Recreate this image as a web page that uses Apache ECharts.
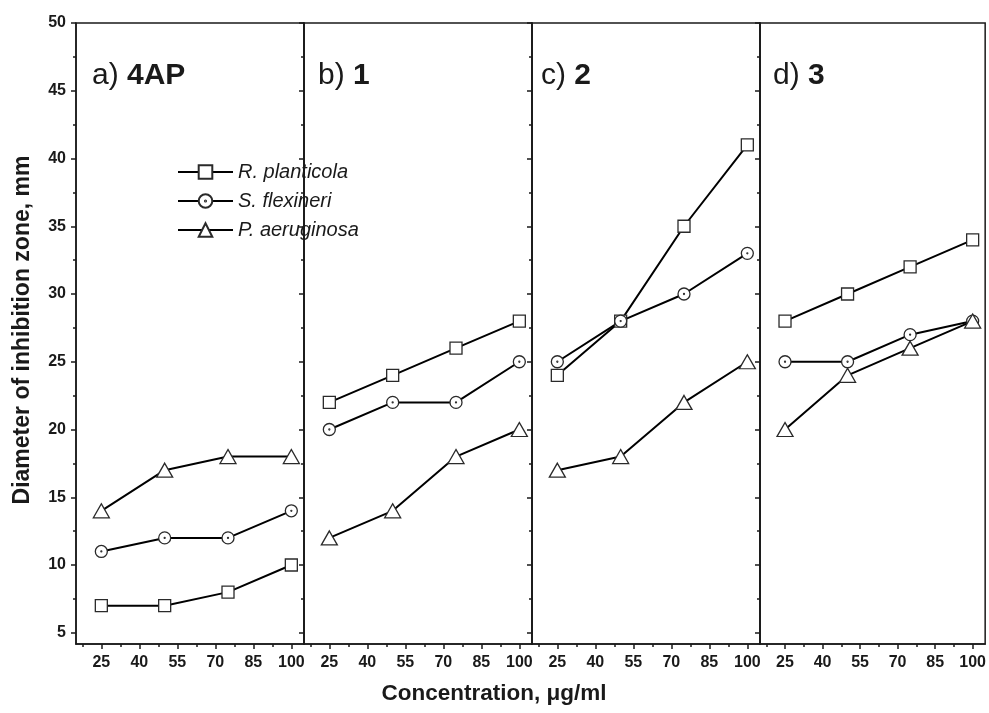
<!DOCTYPE html>
<html>
<head>
<meta charset="utf-8">
<script src="https://cdn.jsdelivr.net/npm/echarts@6/dist/echarts.min.js"></script>
<style>
  html, body { margin: 0; padding: 0; background: #fff; }
  #main { width: 989px; height: 713px; }
</style>
</head>
<body>
<div id="main"></div>
<script>
// x positions of measurements and tick marks
var concentrations = [25, 50, 75, 100];
var xTicks = [25, 40, 55, 70, 85, 100];
var xMinorTicks = [17.5, 32.5, 47.5, 62.5, 77.5, 92.5];
var yTicks = [5, 10, 15, 20, 25, 30, 35, 40, 45, 50];
var yMinorTicks = [7.5, 12.5, 17.5, 22.5, 27.5, 32.5, 37.5, 42.5, 47.5];

var species = ['R. planticola', 'S. flexineri', 'P. aeruginosa'];
var panelLetters = ['a)', 'b)', 'c)', 'd)'];
var panelNames = ['4AP', '1', '2', '3'];

// one row per panel (a, b, c, d)
var rPlanticola = [[7, 7, 8, 10], [22, 24, 26, 28], [24, 28, 35, 41], [28, 30, 32, 34]];
var sFlexineri  = [[11, 12, 12, 14], [20, 22, 22, 25], [25, 28, 30, 33], [25, 25, 27, 28]];
var pAeruginosa = [[14, 17, 18, 18], [12, 14, 18, 20], [17, 18, 22, 25], [20, 24, 26, 28]];

var font = '"Liberation Sans", Arial, sans-serif';
var ink = '#1a1a1a';
var gridLeft = [76, 304, 532, 760];
var gridWidth = 228;
var yMin = 4.17;

// circle with a small dot in the middle
var dotCircle = 'path://M50,0 A50,50 0 1,1 50,100 A50,50 0 1,1 50,0 Z M50,46 A4,4 0 1,1 50,54 A4,4 0 1,1 50,46 Z';
var symbols = ['rect', dotCircle, 'triangle'];
var symbolSizes = [12, 12, [16, 14]];
var values = [rPlanticola, sFlexineri, pAeruginosa];

var chart = echarts.init(document.getElementById('main'));

var grids = [], xAxes = [], yAxes = [], series = [], titles = [];
var tickLabel = { fontSize: 16, fontWeight: 'bold', color: ink, fontFamily: font };

for (var i = 0; i < 4; i++) {
  grids.push({
    left: gridLeft[i], top: 23, width: gridWidth, height: 621,
    show: true, borderColor: ink, borderWidth: 1.5, containLabel: false
  });
  // major x axis
  xAxes.push({
    gridIndex: i, type: 'value', min: 15, max: 105, position: 'bottom',
    axisLine: { show: true, onZero: false, lineStyle: { color: ink, width: 1.5 } },
    axisTick: { show: true, customValues: xTicks, length: 5, lineStyle: { color: ink, width: 1.5 } },
    axisLabel: Object.assign({ customValues: xTicks, margin: 11 }, tickLabel),
    splitLine: { show: false }
  });
  // minor x ticks
  xAxes.push({
    gridIndex: i, type: 'value', min: 15, max: 105, position: 'bottom',
    axisLine: { show: false, onZero: false },
    axisTick: { show: true, customValues: xMinorTicks, length: 3, lineStyle: { color: ink, width: 1.5 } },
    axisLabel: { show: false },
    splitLine: { show: false }
  });
  yAxes.push({
    gridIndex: i, type: 'value', min: yMin, max: 50, position: 'left',
    axisLine: { show: true, onZero: false, lineStyle: { color: ink, width: 1.5 } },
    axisTick: { show: true, customValues: yTicks, length: 5, lineStyle: { color: ink, width: 1.5 } },
    axisLabel: Object.assign({ show: i == 0, customValues: yTicks, margin: 10 }, tickLabel),
    splitLine: { show: false }
  });
  yAxes.push({
    gridIndex: i, type: 'value', min: yMin, max: 50, position: 'left',
    axisLine: { show: false, onZero: false },
    axisTick: { show: true, customValues: yMinorTicks, length: 3, lineStyle: { color: ink, width: 1.5 } },
    axisLabel: { show: false },
    splitLine: { show: false }
  });

  for (var s = 0; s < species.length; s++) {
    series.push({
      name: species[s], type: 'line',
      xAxisIndex: 2 * i, yAxisIndex: 2 * i,
      data: concentrations.map(function (c, k) { return [c, values[s][i][k]]; }),
      symbol: symbols[s], symbolSize: symbolSizes[s], symbolKeepAspect: true,
      showAllSymbol: true,
      lineStyle: { color: '#000', width: 2 },
      itemStyle: { color: '#fff', borderColor: '#2a2a2a', borderWidth: 1.3 },
      emphasis: { disabled: true },
      animation: false
    });
  }

  titles.push({
    text: '{n|' + panelLetters[i] + ' }{b|' + panelNames[i] + '}',
    left: [92, 318, 541, 773][i], top: 61, padding: 0,
    textStyle: {
      rich: {
        n: { fontSize: 30, fontWeight: 'normal', color: ink, fontFamily: font },
        b: { fontSize: 30, fontWeight: 'bold', color: ink, fontFamily: font }
      }
    }
  });
}

var option = {
  backgroundColor: '#fff',
  animation: false,
  title: titles,
  grid: grids,
  xAxis: xAxes,
  yAxis: yAxes,
  legend: {
    data: species, orient: 'vertical', left: 177, top: 162, padding: 0,
    itemWidth: 55, itemHeight: 17, itemGap: 9,
    selectedMode: false,
    textStyle: { fontSize: 20, fontStyle: 'italic', color: ink, fontFamily: font }
  },
  graphic: [
    {
      type: 'text', x: 494, y: 694,
      style: { text: 'Concentration, μg/ml', align: 'center', verticalAlign: 'middle',
        font: 'bold 22.5px ' + font, fill: ink }
    },
    {
      type: 'text', x: 23, y: 330, rotation: Math.PI / 2,
      style: { text: 'Diameter of inhibition zone, mm', align: 'center', verticalAlign: 'middle',
        font: 'bold 23px ' + font, fill: ink }
    }
  ],
  series: series
};

chart.setOption(option);
</script>
</body>
</html>
